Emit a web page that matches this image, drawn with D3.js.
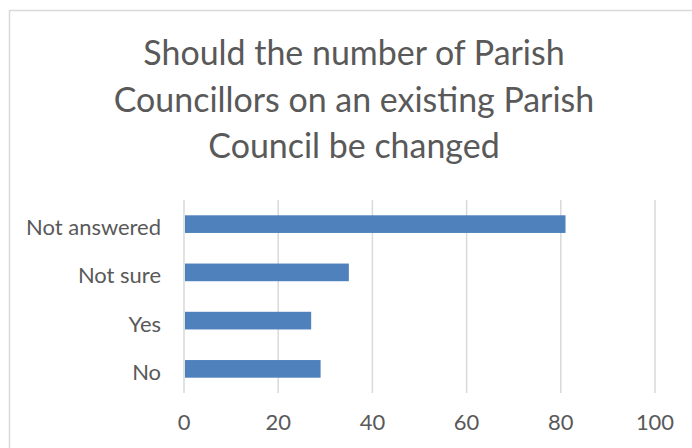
<!DOCTYPE html>
<html>
<head>
<meta charset="utf-8">
<script src="https://cdn.jsdelivr.net/npm/d3@7"></script>
<style>
  html, body { margin: 0; padding: 0; background: #fff; }
  svg { display: block; }
  text { font-family: "Lato", "Open Sans", sans-serif; fill: #595959; }
</style>
</head>
<body>
<svg id="chart" width="692" height="448"></svg>
<script>
const titleLines = ["Should the number of Parish", "Councillors on an existing Parish", "Council be changed"];
const categories = ["Not answered", "Not sure", "Yes", "No"];
const values = [81, 35, 27, 29];
const xTicks = [0, 20, 40, 60, 80, 100];

const svg = d3.select("#chart");

// chart frame (extends beyond the visible area on right and bottom)
svg.append("rect")
  .attr("x", 9.5).attr("y", 10.5)
  .attr("width", 800).attr("height", 600)
  .attr("fill", "#fff").attr("stroke", "#D9D9D9").attr("stroke-width", 1.5);

const plot = { left: 184, right: 655, top: 200, bottom: 393 };

const x = d3.scaleLinear().domain([0, 100]).range([plot.left, plot.right]);
const y = d3.scaleBand().domain(categories).range([plot.top, plot.bottom]).paddingInner(0.634).paddingOuter(0.317);

// gridlines
svg.append("g").selectAll("line").data(xTicks).join("line")
  .attr("x1", d => x(d)).attr("x2", d => x(d))
  .attr("y1", plot.top).attr("y2", plot.bottom)
  .attr("stroke", "#D9D9D9").attr("stroke-width", 1.5);

// bars
svg.append("g").selectAll("rect").data(categories).join("rect")
  .attr("x", x(0) + 1)
  .attr("y", d => y(d))
  .attr("width", (d, i) => x(values[i]) - x(0) - 1)
  .attr("height", y.bandwidth())
  .attr("fill", "#4F81BD");

// title
const titleT = svg.append("g").selectAll("text").data(titleLines).join("text")
  .attr("x", 354)
  .attr("y", (d, i) => 65 + i * 46.5)
  .attr("text-anchor", "middle")
  .style("font-size", "30px")
  .text(d => d);
const tw = titleT.nodes().map(n => n.getComputedTextLength());
const targetW = [435, 463, 293];
const tScale = d3.mean(tw.map((w, i) => targetW[i] / w));
titleT.style("font-size", (30 * tScale) + "px");

// category labels
const catT = svg.append("g").selectAll("text").data(categories).join("text")
  .attr("x", 161)
  .attr("y", d => y(d) + y.bandwidth() / 2 + 11)
  .attr("text-anchor", "end")
  .style("font-size", "20px")
  .text(d => d);
const wc = catT.nodes()[0].getComputedTextLength();
const labelSize = 20 * 135 / wc;
catT.style("font-size", labelSize + "px");

// x tick labels
svg.append("g").selectAll("text").data(xTicks).join("text")
  .attr("x", d => x(d))
  .attr("y", 430)
  .attr("text-anchor", "middle")
  .style("font-size", labelSize + "px")
  .text(d => d);
</script>
</body>
</html>
